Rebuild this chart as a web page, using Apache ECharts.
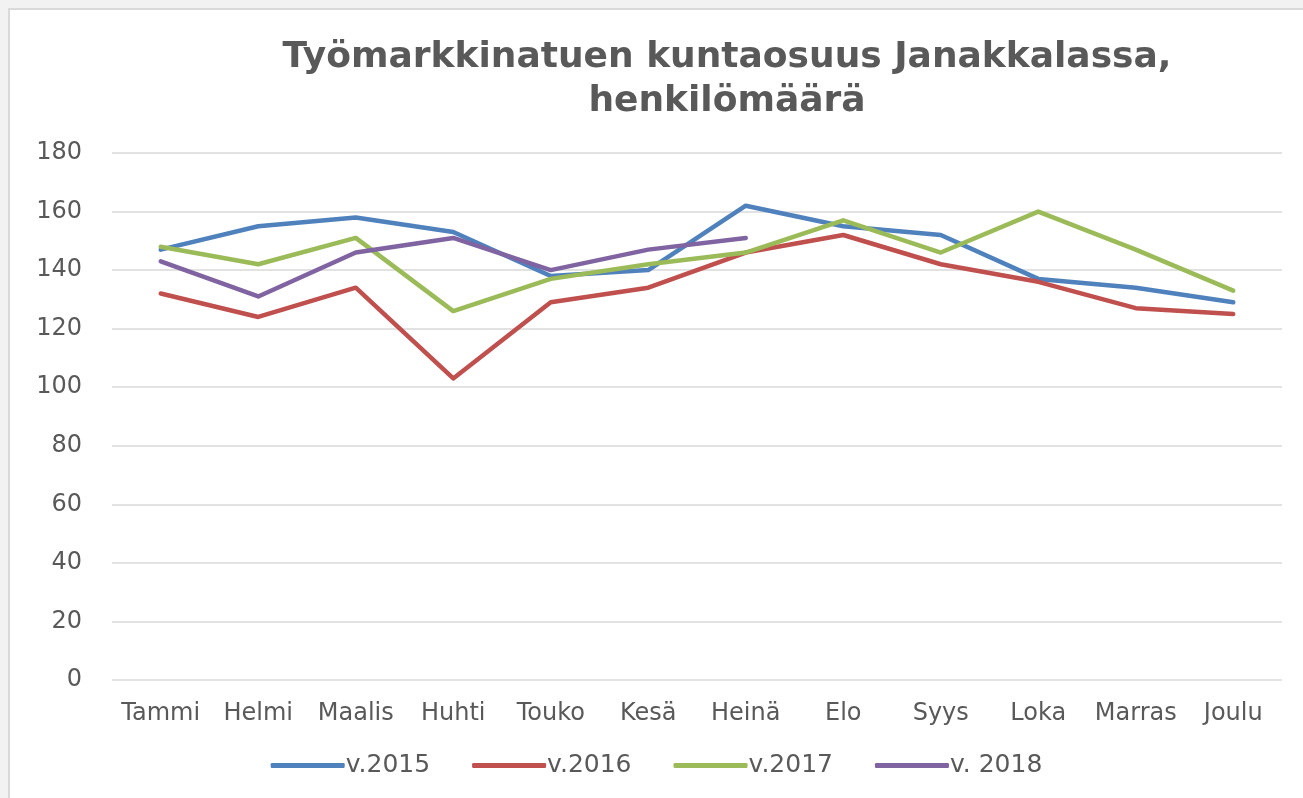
<!DOCTYPE html>
<html>
<head>
<meta charset="utf-8">
<script src="https://cdn.jsdelivr.net/npm/echarts@6/dist/echarts.min.js"></script>
<style>
html, body { margin: 0; padding: 0; background: #f2f2f2; }
#main {
    position: absolute; left: 8px; top: 8px;
    width: 1295px; height: 790px;
    box-sizing: border-box;
    background: #fff;
    border-left: 2px solid #d9d9d9; border-top: 2px solid #d9d9d9;
}
</style>
</head>
<body>
<div id="main"></div>
<script>
// kuukaudet
var months = ["Tammi", "Helmi", "Maalis", "Huhti", "Touko", "Kesä", "Heinä", "Elo", "Syys", "Loka", "Marras", "Joulu"];
// sarjojen arvot
var v2015 = [147, 155, 158, 153, 138, 140, 162, 155, 152, 137, 134, 129];
var v2016 = [132, 124, 134, 103, 129, 134, 146, 152, 142, 136, 127, 125];
var v2017 = [148, 142, 151, 126, 137, 142, 146, 157, 146, 160, 147, 133];
var v2018 = [143, 131, 146, 151, 140, 147, 151];
var seriesNames = ["v.2015", "v.2016", "v.2017", "v. 2018"];
var colors = ["#4f81bd", "#c0504d", "#9bbb59", "#8064a2"];

var font = "'DejaVu Sans', sans-serif";
var chart = echarts.init(document.getElementById('main'));

function line(name, data, color) {
    return {
        name: name,
        type: 'line',
        data: data,
        symbol: 'none',
        smooth: false,
        lineStyle: { width: 4.5, color: color, cap: 'round', join: 'round' },
        itemStyle: { color: color }
    };
}

chart.setOption({
    animation: false,
    title: {
        text: 'Työmarkkinatuen kuntaosuus Janakkalassa,\nhenkilömäärä',
        left: 712, top: 21, textAlign: 'center',
        textStyle: { fontFamily: font, fontSize: 36, fontWeight: 'bold', color: '#595959', lineHeight: 44 }
    },
    legend: {
        bottom: 15, left: 'center',
        itemWidth: 74, itemHeight: 5, itemGap: 42,
        icon: 'roundRect',
        textStyle: { fontFamily: font, fontSize: 25, color: '#595959', padding: [0, 0, 0, -4] },
        data: seriesNames
    },
    grid: { left: 102, right: 21, top: 143, bottom: 118 },
    xAxis: {
        type: 'category',
        data: months,
        boundaryGap: true,
        axisLine: { show: false },
        axisTick: { show: false },
        axisLabel: { fontFamily: font, fontSize: 24, color: '#595959', margin: 22, interval: 0 }
    },
    yAxis: {
        type: 'value',
        min: 0, max: 180, interval: 20,
        axisLine: { show: false },
        axisTick: { show: false },
        axisLabel: { fontFamily: font, fontSize: 24, color: '#595959', margin: 30 },
        splitLine: { lineStyle: { color: '#d9d9d9', width: 1.5 } }
    },
    series: [
        line(seriesNames[0], v2015, colors[0]),
        line(seriesNames[1], v2016, colors[1]),
        line(seriesNames[2], v2017, colors[2]),
        line(seriesNames[3], v2018, colors[3])
    ]
});
</script>
</body>
</html>
